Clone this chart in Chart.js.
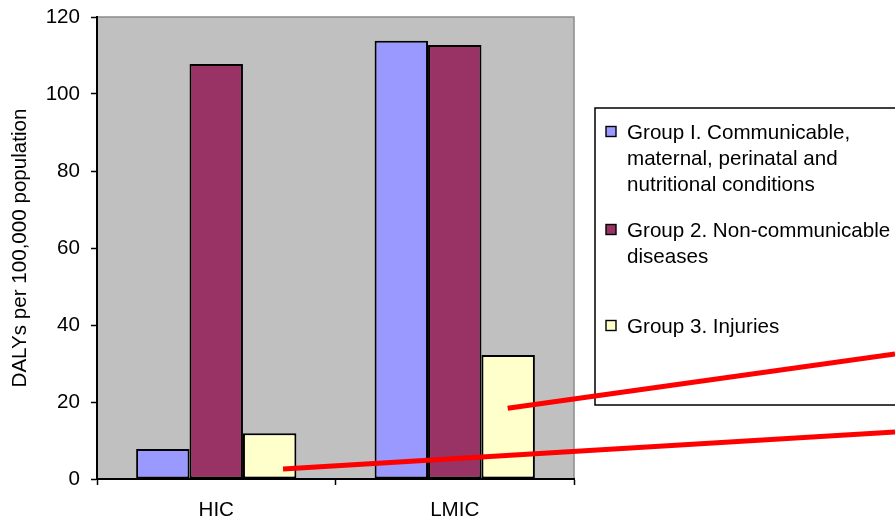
<!DOCTYPE html>
<html>
<head>
<meta charset="utf-8">
<script src="https://cdn.jsdelivr.net/npm/chart.js@4/dist/chart.umd.min.js"></script>
<style>
  html, body { margin: 0; padding: 0; background: #ffffff; }
  #wrap { width: 895px; height: 522px; position: relative; }
</style>
</head>
<body>
<div id="wrap"><canvas id="chart" width="895" height="522"></canvas></div>
<script>
// Income groups on the x axis
const categories = ["HIC", "LMIC"];

// DALYs per 100,000 population, by cause group
const group1Values = [7.8, 113.8];
const group2Values = [107.8, 112.7];
const group3Values = [11.9, 32.2];

const seriesLabels = [
  "Group I. Communicable, maternal, perinatal and nutritional conditions",
  "Group 2. Non-communicable diseases",
  "Group 3. Injuries"
];
// Legend text as it wraps in the key box
const legendLines = [
  ["Group I. Communicable,", "maternal, perinatal and", "nutritional conditions"],
  ["Group 2. Non-communicable", "diseases"],
  ["Group 3. Injuries"]
];

const yTicks = [0, 20, 40, 60, 80, 100, 120];

// Red callout lines, in axis units: [category index, value] -> [category index, value]
const calloutStartIndex = [0.28, 1.222];
const calloutStartValue = [2.6, 18.4];
const calloutEndIndex = [2.846, 2.846];
const calloutEndValue = [12.2, 32.5];

const FONT = "'Liberation Sans', Arial, sans-serif";
const TEXT_SIZE = 20.6;
const colours = ["#9999FF", "#993366", "#FFFFCC"];

// Grey plot background with the light frame on top and right
const plotBackground = {
  id: 'plotBackground',
  beforeDraw(chart) {
    const { ctx, chartArea: a } = chart;
    ctx.save();
    ctx.fillStyle = '#C0C0C0';
    ctx.fillRect(a.left, a.top, a.right - a.left, a.bottom - a.top);
    ctx.strokeStyle = '#8c8c8c';
    ctx.lineWidth = 1.5;
    ctx.beginPath();
    ctx.moveTo(a.left, a.top);
    ctx.lineTo(a.right, a.top);
    ctx.lineTo(a.right, a.bottom);
    ctx.stroke();
    ctx.restore();
  }
};

// Boxed key to the right of the plot, with wrapped labels
const boxedLegend = {
  id: 'boxedLegend',
  afterDraw(chart) {
    const { ctx } = chart;
    const box = { left: 595, top: 108, right: 900, bottom: 405 };
    const itemBaselines = [139, 237, 333];
    const lineStep = 26;
    ctx.save();
    ctx.fillStyle = '#ffffff';
    ctx.fillRect(box.left, box.top, box.right - box.left, box.bottom - box.top);
    ctx.strokeStyle = '#000000';
    ctx.lineWidth = 1.5;
    ctx.strokeRect(box.left, box.top, box.right - box.left, box.bottom - box.top);
    ctx.font = TEXT_SIZE + 'px ' + FONT;
    ctx.textBaseline = 'alphabetic';
    chart.data.datasets.forEach((ds, i) => {
      const base = itemBaselines[i];
      ctx.fillStyle = ds.backgroundColor;
      ctx.fillRect(606, base - 12.5, 10, 10);
      ctx.lineWidth = 1.4;
      ctx.strokeStyle = '#000000';
      ctx.strokeRect(606, base - 12.5, 10, 10);
      ctx.fillStyle = '#000000';
      legendLines[i].forEach((line, j) => {
        ctx.fillText(line, 627, base + j * lineStep);
      });
    });
    ctx.restore();
  }
};

// Red callout lines drawn over bars and key
const callouts = {
  id: 'callouts',
  afterDraw(chart) {
    const { ctx } = chart;
    const x = chart.scales.x, y = chart.scales.y;
    ctx.save();
    ctx.strokeStyle = '#FF0000';
    ctx.lineWidth = 5;
    ctx.lineCap = 'butt';
    for (let i = 0; i < calloutStartIndex.length; i++) {
      ctx.beginPath();
      ctx.moveTo(x.getPixelForValue(calloutStartIndex[i]), y.getPixelForValue(calloutStartValue[i]));
      ctx.lineTo(x.getPixelForValue(calloutEndIndex[i]), y.getPixelForValue(calloutEndValue[i]));
      ctx.stroke();
    }
    ctx.restore();
  }
};

const seriesValues = [group1Values, group2Values, group3Values];

new Chart(document.getElementById('chart'), {
  type: 'bar',
  data: {
    labels: categories,
    datasets: seriesValues.map((vals, i) => ({
      label: seriesLabels[i],
      data: vals,
      backgroundColor: colours[i],
      borderColor: '#000000',
      borderWidth: 2,
      borderSkipped: false,
      categoryPercentage: 0.672,
      barPercentage: 1.0
    }))
  },
  options: {
    responsive: false,
    animation: false,
    devicePixelRatio: 1,
    layout: { padding: { top: 17, right: 321, bottom: 0, left: 0 } },
    plugins: {
      legend: { display: false },
      tooltip: { enabled: false },
      title: { display: false }
    },
    scales: {
      x: {
        type: 'category',
        offset: true,
        grid: {
          display: true,
          drawOnChartArea: false,
          drawTicks: true,
          tickLength: 6,
          tickColor: '#000000',
          tickWidth: 1.5,
          offset: true
        },
        border: { display: true, color: '#000000', width: 2 },
        ticks: {
          color: '#000000',
          font: { family: FONT, size: TEXT_SIZE },
          padding: 13,
          maxRotation: 0
        },
        afterFit(scale) {
          scale.height = 43;
          scale.paddingLeft = 0;
          scale.paddingRight = 0;
        }
      },
      y: {
        min: 0,
        max: 120,
        afterBuildTicks(scale) { scale.ticks = yTicks.map(v => ({ value: v })); },
        grid: {
          display: true,
          drawOnChartArea: false,
          drawTicks: true,
          tickLength: 6,
          tickColor: '#000000',
          tickWidth: 1.5
        },
        border: { display: true, color: '#000000', width: 2 },
        ticks: {
          color: '#000000',
          font: { family: FONT, size: TEXT_SIZE },
          padding: 11
        },
        title: {
          display: true,
          text: 'DALYs per 100,000 population',
          color: '#000000',
          font: { family: FONT, size: TEXT_SIZE },
          padding: { top: 8, bottom: 0 }
        },
        afterFit(scale) {
          scale.width = 97;
          scale.paddingTop = 0;
          scale.paddingBottom = 0;
        }
      }
    }
  },
  plugins: [plotBackground, boxedLegend, callouts]
});
</script>
</body>
</html>
